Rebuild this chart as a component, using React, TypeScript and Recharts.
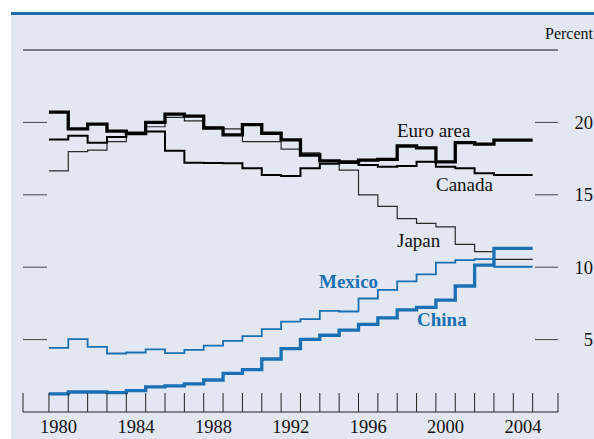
import { LineChart, Line, XAxis, YAxis, ReferenceLine } from "recharts";

// Annual shares, percent (step series, value held through each year)
const YEARS = [
  1980, 1981, 1982, 1983, 1984, 1985, 1986, 1987, 1988, 1989, 1990, 1991, 1992,
  1993, 1994, 1995, 1996, 1997, 1998, 1999, 2000, 2001, 2002, 2003, 2004,
];
const EURO_AREA = [
  20.71, 19.55, 19.88, 19.4, 19.22, 20.0, 20.57, 20.43, 19.6, 19.14, 19.85, 19.25, 18.79,
  17.75, 17.34, 17.27, 17.4, 17.45, 18.37, 18.24, 17.28, 18.6, 18.5, 18.77, 18.77,
];
const CANADA = [
  18.82, 19.07, 18.6, 19.0, 19.3, 19.37, 18.05, 17.22, 17.2, 17.18, 16.83, 16.37, 16.3,
  16.83, 17.15, 17.2, 17.06, 16.94, 16.99, 17.29, 16.94, 16.83, 16.49, 16.37, 16.37,
];
const JAPAN = [
  16.65, 17.98, 18.08, 18.67, 19.18, 19.7, 20.35, 20.1, 19.7, 19.55, 18.67, 18.67, 18.15,
  17.9, 17.3, 16.7, 15.0, 14.2, 13.35, 13.03, 12.78, 11.57, 11.07, 10.54, 10.54,
];
const MEXICO = [
  4.43, 5.03, 4.5, 4.04, 4.11, 4.32, 4.06, 4.29, 4.59, 4.91, 5.24, 5.72, 6.24,
  6.42, 6.98, 6.94, 7.84, 8.44, 9.02, 9.5, 10.32, 10.49, 10.56, 10.03, 10.03,
];
const CHINA = [
  1.25, 1.38, 1.38, 1.34, 1.48, 1.73, 1.8, 1.94, 2.21, 2.67, 2.92, 3.66, 4.38,
  5.02, 5.3, 5.65, 6.05, 6.5, 7.05, 7.22, 7.72, 8.7, 10.15, 11.3, 11.3,
];
const X_LABEL_YEARS = [1980, 1984, 1988, 1992, 1996, 2000, 2004];
const Y_TICKS = [5, 10, 15, 20];
const X_DOMAIN: [number, number] = [1978.66, 2006.31];

const BLUE = "#1a70b4";
const SERIF = "'Liberation Serif', 'Times New Roman', serif";

// one row per year, plus a closing row so the last step is drawn to year end
const rows = [...YEARS, YEARS[YEARS.length - 1] + 1].map((year, i) => {
  const k = Math.min(i, YEARS.length - 1);
  return {
    year,
    euro: EURO_AREA[k],
    canada: CANADA[k],
    japan: JAPAN[k],
    mexico: MEXICO[k],
    china: CHINA[k],
  };
});

const yearTicks = [
  X_DOMAIN[0],
  ...rows.map((r) => r.year),
  ...X_LABEL_YEARS.map((y) => y + 0.5),
  X_DOMAIN[1],
];

function YearTick({ x, y, payload }: any) {
  const v = payload.value as number;
  const labelYear = v - 0.5;
  if (X_LABEL_YEARS.includes(labelYear)) {
    return (
      <text
        x={x}
        y={y + 21}
        textAnchor="middle"
        fontFamily={SERIF}
        fontSize={18.5}
        fill="#111"
      >
        {labelYear}
      </text>
    );
  }
  return <line x1={x} x2={x} y1={y} y2={y - 19} stroke="#222" strokeWidth={1} />;
}

function LeftTick({ x, y }: any) {
  return <line x1={x} x2={x + 24} y1={y} y2={y} stroke="#444" strokeWidth={1} />;
}

function RightTick({ x, y, payload }: any) {
  return (
    <g>
      <line x1={x - 23} x2={x} y1={y} y2={y} stroke="#444" strokeWidth={1} />
      <text
        x={x + 35}
        y={y}
        dy="0.35em"
        textAnchor="end"
        fontFamily={SERIF}
        fontSize={18.5}
        fill="#111"
      >
        {payload.value}
      </text>
    </g>
  );
}

const seriesLabels = [
  { text: "Euro area", x: 397, y: 136.5, color: "#111", bold: false },
  { text: "Canada", x: 436, y: 190.5, color: "#111", bold: false },
  { text: "Japan", x: 397, y: 246.5, color: "#111", bold: false },
  { text: "Mexico", x: 319, y: 288.3, color: BLUE, bold: true },
  { text: "China", x: 417, y: 326, color: BLUE, bold: true },
];

export default function App() {
  return (
    <div
      style={{
        position: "absolute",
        left: 0,
        top: 0,
        width: 594,
        height: 439,
        background: "#fff",
        overflow: "hidden",
      }}
    >
      {/* panel background and top rule */}
      <div
        style={{
          position: "absolute",
          left: 11,
          top: 15,
          width: 583,
          height: 424,
          background: "#e2e7f1",
        }}
      />
      <div
        style={{
          position: "absolute",
          left: 11,
          top: 12,
          width: 583,
          height: 3,
          background: "#1c6fae",
        }}
      />

      <div style={{ position: "absolute", left: 0, top: 0 }}>
        <LineChart
          width={594}
          height={439}
          data={rows}
          margin={{ top: 50, right: 0, left: 0, bottom: 0 }}
        >
          <XAxis
            dataKey="year"
            type="number"
            domain={X_DOMAIN}
            ticks={yearTicks}
            interval={0}
            height={27}
            tickSize={0}
            tickMargin={0}
            tickLine={false}
            axisLine={{ stroke: "#222", strokeWidth: 1 }}
            tick={<YearTick />}
            allowDataOverflow
          />
          <YAxis
            yAxisId="left"
            orientation="left"
            domain={[0, 25]}
            ticks={Y_TICKS}
            interval={0}
            width={23}
            tickSize={0}
            tickMargin={0}
            tickLine={false}
            axisLine={false}
            tick={<LeftTick />}
          />
          <YAxis
            yAxisId="right"
            orientation="right"
            domain={[0, 25]}
            ticks={Y_TICKS}
            interval={0}
            width={36}
            tickSize={0}
            tickMargin={0}
            tickLine={false}
            axisLine={false}
            tick={<RightTick />}
          />
          <ReferenceLine yAxisId="right" y={25} stroke="#111" strokeWidth={1} />

          {/* invisible copy so the left axis has a series bound to it */}
          <Line
            yAxisId="left"
            type="stepAfter"
            dataKey="euro"
            stroke="none"
            strokeWidth={0}
            dot={false}
            activeDot={false}
            isAnimationActive={false}
          />
          <Line
            yAxisId="right"
            type="stepAfter"
            dataKey="japan"
            stroke="#2a2a2a"
            strokeWidth={1.2}
            dot={false}
            isAnimationActive={false}
          />
          <Line
            yAxisId="right"
            type="stepAfter"
            dataKey="canada"
            stroke="#000"
            strokeWidth={2}
            dot={false}
            isAnimationActive={false}
          />
          <Line
            yAxisId="right"
            type="stepAfter"
            dataKey="euro"
            stroke="#000"
            strokeWidth={3.3}
            dot={false}
            isAnimationActive={false}
          />
          <Line
            yAxisId="right"
            type="stepAfter"
            dataKey="mexico"
            stroke={BLUE}
            strokeWidth={1.8}
            dot={false}
            isAnimationActive={false}
          />
          <Line
            yAxisId="right"
            type="stepAfter"
            dataKey="china"
            stroke={BLUE}
            strokeWidth={3.3}
            dot={false}
            isAnimationActive={false}
          />
        </LineChart>
      </div>

      {/* unit caption and series labels */}
      <svg
        width={594}
        height={439}
        style={{ position: "absolute", left: 0, top: 0, pointerEvents: "none" }}
      >
        <text x={593} y={39.3} textAnchor="end" fontFamily={SERIF} fontSize={16} fill="#111">
          Percent
        </text>
        {seriesLabels.map((l) => (
          <text
            key={l.text}
            x={l.x}
            y={l.y}
            fontFamily={SERIF}
            fontSize={19}
            fontWeight={l.bold ? "bold" : "normal"}
            fill={l.color}
          >
            {l.text}
          </text>
        ))}
      </svg>
    </div>
  );
}
